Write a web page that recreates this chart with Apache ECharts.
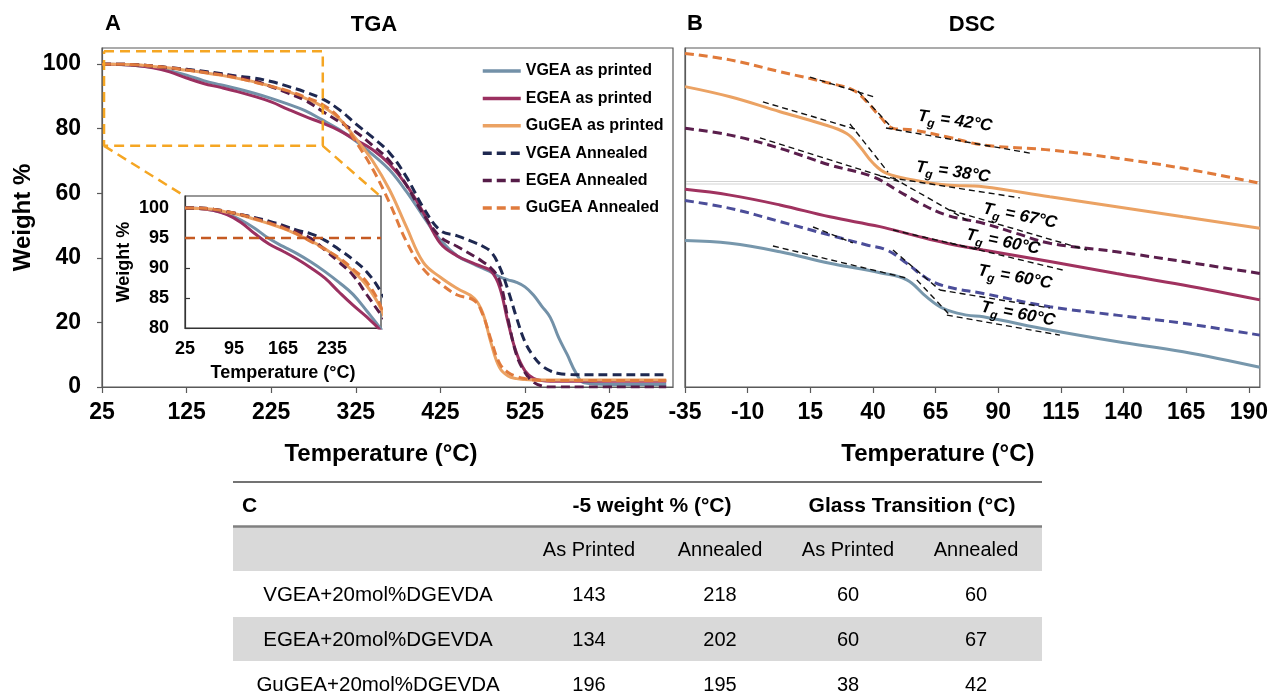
<!DOCTYPE html>
<html>
<head>
<meta charset="utf-8">
<script src="https://cdn.jsdelivr.net/npm/echarts@6/dist/echarts.min.js"></script>
<style>
html,body{margin:0;padding:0;background:#fff;}
#chart{width:1271px;height:700px;}
</style>
</head>
<body>
<div id="chart"></div>
<script>
// ---------------- DATA ----------------
const seriesNames = ['VGEA as printed','EGEA as printed','GuGEA as printed','VGEA Annealed','EGEA Annealed','GuGEA Annealed'];

// TGA (temperature °C, weight %)
const tgaTemp = [25,45,65,85,105,125,145,165,185,205,225,245,265,285,305,325,345,365,385,405,425,445,465,475,485,495,505,515,525,535,545,555,565,575,585,595,625,660,692];
const vgeaPrinted  = [100,99.9,99.6,99.0,98.0,96.6,94.9,93.6,92.4,91.0,89.4,87.6,85.6,82.8,79.8,76.2,72.0,67.2,60.5,52.8,45.5,40.6,38.0,36.8,35.6,34.1,33.2,32.4,31.0,28.5,25.0,21.5,15.2,10.0,4.5,1.3,0.8,0.8,0.8];
const egeaPrinted  = [100,99.9,99.6,98.9,97.6,95.7,94.0,92.8,91.5,90.0,88.3,86.0,83.8,81.8,79.5,76.5,73.5,69.0,62.5,54.0,44.5,40.6,38.2,37.2,35.9,31.0,20.0,10.5,5.0,2.7,2.0,1.8,1.8,1.8,1.8,1.8,1.8,1.8,1.8];
const gugeaPrinted = [100,99.9,99.8,99.3,98.8,98.1,97.4,96.6,95.6,94.5,93.2,91.5,89.5,87.0,83.2,77.0,70.0,61.0,49.5,38.5,34.0,30.5,27.5,23.0,13.5,6.0,3.4,2.6,2.3,2.2,2.2,2.2,2.2,2.2,2.2,2.2,2.2,2.2,2.2];
const vgeaAnnealed = [100,100,99.8,99.4,98.9,98.4,97.8,97.1,96.3,95.7,94.6,93.1,91.4,89.3,86.0,81.5,77.3,72.5,65.0,55.5,48.5,46.8,44.8,43.6,41.8,37.2,30.0,21.5,14.0,9.5,6.6,5.0,4.2,3.9,3.8,3.8,3.8,3.8,3.8];
const egeaAnnealed = [100,100,99.8,99.4,98.9,98.3,97.6,96.9,96.0,94.9,93.0,91.0,88.8,85.5,82.2,79.0,74.8,70.0,62.5,53.5,46.5,43.5,40.5,38.8,36.8,33.0,21.0,10.0,4.5,1.5,0.3,0,0,0,0,0,0,0,0];
const gugeaAnnealed= [100,100,99.8,99.4,98.9,98.2,97.5,96.7,95.7,94.4,93.1,91.7,89.8,87.6,83.5,76.0,67.5,57.0,45.0,36.5,32.0,28.5,26.8,22.5,14.5,7.3,4.5,3.3,2.6,2.2,2.0,2.0,2.0,2.0,2.0,2.0,2.0,2.0,2.0];
const tgaValues = [vgeaPrinted, egeaPrinted, gugeaPrinted, vgeaAnnealed, egeaAnnealed, gugeaAnnealed];

const tgaXTicks = [25,125,225,325,425,525,625];
const tgaYTicks = [0,20,40,60,80,100];
const insetXTicks = [25,95,165,235];
const insetYTicks = [80,85,90,95,100];
const insetThreshold = 95;
// zoom box annotation on TGA panel (temperature, weight %)
const zoomBoxPath = [[27.4,104],[286,104],[286,74.7],[27.4,74.7],[27.4,104]];
const zoomLinkLeft = [[27.4,74.7],[123,59.1]];
const zoomLinkRight = [[286,74.7],[354,59.1]];

// DSC (temperature °C, heat flow, arbitrary units 0-100)
const dscVgeaPrintedT = [-35,-17,2.9,22.8,42.8,53.5,61.4,68,77.4,84,110.6,137.2,163.8,194.4];
const dscVgeaPrintedY = [43.2,42.4,39.9,36.5,33.7,31.6,26.6,23.2,21.2,20.7,16.8,13.4,10.4,5.8];
const dscEgeaPrintedT = [-35,-17,2.9,22.8,42.8,56.1,69.4,84,110.6,137.2,163.8,194.4];
const dscEgeaPrintedY = [58.3,56.6,53.7,50.2,47.3,44.8,42.4,40.4,37.0,33.5,30.1,25.7];
const dscGugeaPrintedT = [-35,-17,2.9,18.8,29.5,34.8,40.1,45.5,56.1,69.4,84,110.6,137.2,163.8,194.4];
const dscGugeaPrintedY = [88.6,85.6,81.2,77.8,74.8,70.9,66.0,63.0,61.1,59.6,59.1,56.1,53.2,50.2,46.8];
const dscVgeaAnnealedT = [-35,-17,2.9,22.8,37.5,45.5,53.5,61.4,69.4,84,110.6,137.2,163.8,194.4];
const dscVgeaAnnealedY = [55.0,52.7,48.8,44.8,41.9,40.4,36.5,32.1,29.6,27.6,23.7,21.2,18.8,15.3];
const dscEgeaAnnealedT = [-35,-17,2.9,22.8,40.1,49.5,58.8,69.4,84,97.3,110.6,137.2,163.8,194.4];
const dscEgeaAnnealedY = [76.3,74.3,70.4,65.5,62.0,58.1,54.2,50.7,48.3,45.3,42.4,39.9,37.0,33.5];
const dscGugeaAnnealedT = [-35,-17,2.9,22.8,32.1,37.5,42.8,48.1,56.1,69.4,84,110.6,137.2,163.8,194.4];
const dscGugeaAnnealedY = [98.4,96.5,93.0,89.6,87.6,84.2,79.8,76.3,75.8,73.8,71.4,69.9,67.5,64.5,60.1];
const dscT = [dscVgeaPrintedT, dscEgeaPrintedT, dscGugeaPrintedT, dscVgeaAnnealedT, dscEgeaAnnealedT, dscGugeaAnnealedT];
const dscY = [dscVgeaPrintedY, dscEgeaPrintedY, dscGugeaPrintedY, dscVgeaAnnealedY, dscEgeaAnnealedY, dscGugeaAnnealedY];
const dscXTicks = [-35,-10,15,40,65,90,115,140,165,190];
// tangent construction lines on DSC: [[x1,y1],[x2,y2]]
const dscTangents = [
  [[14.9,91.4],[40.8,85.5]], [[34,87.3],[48,76.1]], [[45.2,76.4],[102.6,69.0]],
  [[-3.9,84.1],[32.8,76.1]], [[30.8,77.6],[46,63.4]], [[42.8,62.2],[98.6,55.8]],
  [[-5.1,73.5],[50.8,60.5]], [[48,61.7],[78.7,48.7]], [[70.7,52.2],[125.4,40.4]],
  [[48,46.3],[82.7,40.4]], [[70.7,42.5],[115.8,34.5]],
  [[16.1,47.2],[32,42.5]], [[48,40.4],[66.7,28.6]], [[66.7,28.6],[110.6,23.3]],
  [[0.1,41.6],[53.6,32.1]], [[57.5,31.6],[70.7,21.2]], [[69.5,21.2],[114.6,15.3]]
];
const tgLabels = ['42','38','67','60','60','60'];

// Table C
const tableGroups = ['-5 weight % (°C)', 'Glass Transition (°C)'];
const tableSubHeaders = ['As Printed','Annealed','As Printed','Annealed'];
const tableRowNames = ['VGEA+20mol%DGEVDA','EGEA+20mol%DGEVDA','GuGEA+20mol%DGEVDA'];
const t5Printed = [143,134,196];
const t5Annealed = [218,202,195];
const tgPrinted = [60,60,38];
const tgAnnealed = [60,67,42];

// ---------------- STYLE ----------------
const FONT = 'Liberation Sans, Arial, Helvetica, sans-serif';
const tgaColors = ['#7391A8','#9B3060','#EBA263','#1E2850','#561C48','#E07B3D'];
const dscColors = ['#7797AC','#A0325F','#EBA263','#4B4D99','#5A1E4C','#E07A3A'];
const dashedFlags = [false,false,false,true,true,true];
const DASH = [9,5];
const axisColor = '#595959';
const SMOOTH = 0.4;

const chart = echarts.init(document.getElementById('chart'), null, {renderer:'canvas'});

const series = [];
tgaValues.forEach((vals, i) => {
  const data = tgaTemp.map((t, k) => [t, vals[k]]);
  series.push({
    name: seriesNames[i], type:'line', xAxisIndex:0, yAxisIndex:0, data,
    symbol:'none', smooth:SMOOTH, z:2,
    lineStyle:{color:tgaColors[i], width:3, type: dashedFlags[i] ? DASH : 'solid'},
    itemStyle:{color:tgaColors[i]}
  });
});
// zoom box annotation
[zoomBoxPath, zoomLinkLeft, zoomLinkRight].forEach(p => {
  series.push({type:'line', xAxisIndex:0, yAxisIndex:0, data:p, symbol:'none', z:3, silent:true,
    lineStyle:{color:'#F5A623', width:2.5, type:[10,6]}});
});
// inset
tgaValues.forEach((vals, i) => {
  const data = tgaTemp.map((t, k) => [t, vals[k]]);
  series.push({
    name: seriesNames[i], type:'line', xAxisIndex:1, yAxisIndex:1, data,
    symbol:'none', smooth:SMOOTH, z:12, clip:true,
    lineStyle:{color:tgaColors[i], width:3, type: dashedFlags[i] ? DASH : 'solid'},
    itemStyle:{color:tgaColors[i]}
  });
});
series.push({type:'line', xAxisIndex:1, yAxisIndex:1, symbol:'none', z:12, silent:true,
  data:[[25,insetThreshold],[305,insetThreshold]],
  lineStyle:{color:'#C55A22', width:2.5, type:[10,6]}});
// DSC
dscT.forEach((ts, i) => {
  const data = ts.map((t, k) => [t, dscY[i][k]]);
  series.push({
    name: seriesNames[i], type:'line', xAxisIndex:2, yAxisIndex:2, data,
    symbol:'none', smooth:SMOOTH, z:2,
    lineStyle:{color:dscColors[i], width:3, type: dashedFlags[i] ? DASH : 'solid'},
    itemStyle:{color:dscColors[i]}
  });
});
dscTangents.forEach(seg => {
  series.push({type:'line', xAxisIndex:2, yAxisIndex:2, data:seg, symbol:'none', z:4, silent:true,
    lineStyle:{color:'#111', width:1.4, type:[6,4]}});
});

const boldLabel = (size) => ({fontFamily:FONT, fontWeight:'bold', fontSize:size, color:'#000'});

// graphic elements
const graphic = [];
const txt = (text, x, y, size, weight, align, extra) => Object.assign({
  type:'text', x, y, z:50,
  style:{text, fill:'#000', font: `${weight} ${size}px ${FONT}`, align: align || 'center', verticalAlign:'middle'}
}, extra || {});
graphic.push(txt('A', 113, 24, 22, 'bold'));
graphic.push(txt('TGA', 374, 25, 22, 'bold'));
graphic.push(txt('B', 695, 24, 22, 'bold'));
graphic.push(txt('DSC', 972, 25, 22, 'bold'));
// thin gray artifact line across DSC panel
[181.5, 184].forEach(y => graphic.push({type:'line', z:1, shape:{x1:686,y1:y,x2:1259,y2:y}, style:{stroke:'#d3d3d3', lineWidth:1}}));
// Tg labels
const tgPos = [[955,121,-0.14],[953,172,-0.14],[1020,216,-0.2],[1003,242,-0.2],[1015,277,-0.18],[1018,314,-0.19]];
tgLabels.forEach((v, i) => {
  graphic.push({type:'text', x:tgPos[i][0], y:tgPos[i][1], rotation:tgPos[i][2], z:50,
    style:{text:`{m|T}{s|g}{m| = ${v}°C}`, align:'center', verticalAlign:'middle',
      rich:{
        m:{fontFamily:FONT, fontSize:17, fontWeight:'bold', fontStyle:'italic', fill:'#000', lineHeight:24, verticalAlign:'middle'},
        s:{fontFamily:FONT, fontSize:12, fontWeight:'bold', fontStyle:'italic', fill:'#000', lineHeight:12, verticalAlign:'bottom'}
      }}});
});
// Table C
const tL = 233, tR = 1042;
graphic.push({type:'line', shape:{x1:tL,y1:482,x2:tR,y2:482}, style:{stroke:'#444', lineWidth:1.5}});
graphic.push({type:'rect', shape:{x:tL,y:527,width:tR-tL,height:44}, style:{fill:'#d9d9d9'}});
graphic.push({type:'rect', shape:{x:tL,y:617,width:tR-tL,height:44}, style:{fill:'#d9d9d9'}});
graphic.push({type:'line', shape:{x1:tL,y1:526.5,x2:tR,y2:526.5}, style:{stroke:'#808080', lineWidth:2.5}});
graphic.push(txt('C', 242, 506, 21, 'bold', 'left'));
const groupX = [652, 912];
tableGroups.forEach((g, i) => graphic.push(txt(g, groupX[i], 506, 21, 'bold')));
const colX = [589, 720, 848, 976];
tableSubHeaders.forEach((h, i) => graphic.push(txt(h, colX[i], 550, 20, 'normal')));
const rowY = [595.5, 640, 685];
tableRowNames.forEach((r, j) => {
  graphic.push(txt(r, 378, rowY[j], 20.5, 'normal'));
  [t5Printed, t5Annealed, tgPrinted, tgAnnealed].forEach((col, i) => graphic.push(txt(String(col[j]), colX[i], rowY[j], 20, 'normal')));
});

const option = {
  animation:false,
  backgroundColor:'#fff',
  textStyle:{fontFamily:FONT},
  legend:{
    data:seriesNames, orient:'vertical', left:476, top:57, itemWidth:38, itemHeight:14, itemGap:9.4,
    selectedMode:false, z:20,
    itemStyle:{opacity:0},
    lineStyle:{width:3.5},
    textStyle:{fontFamily:FONT, fontSize:16, fontWeight:'bold', color:'#000', lineHeight:18}
  },
  grid:[
    {left:102, top:48, width:571, height:339, show:true, borderColor:axisColor, borderWidth:1.2, z:0},
    {left:185, top:196, width:196, height:132, show:true, backgroundColor:'#fff', borderColor:'#333', borderWidth:1.2, z:10},
    {left:685, top:48, width:575, height:339, show:true, borderColor:axisColor, borderWidth:1.2, z:0}
  ],
  xAxis:[
    {type:'value', gridIndex:0, min:25, max:700,
      axisLine:{show:true, onZero:false, lineStyle:{color:axisColor, width:1.2}},
      axisTick:{show:true, length:6, customValues:tgaXTicks, lineStyle:{color:axisColor, width:1.2}},
      axisLabel:Object.assign({customValues:tgaXTicks, margin:14}, boldLabel(23)),
      splitLine:{show:false},
      name:'Temperature (°C)', nameLocation:'middle', nameGap:55,
      nameTextStyle:Object.assign({padding:[0,13,0,0]}, boldLabel(24))},
    {type:'value', gridIndex:1, min:25, max:305, z:12,
      axisLine:{show:true, onZero:false, lineStyle:{color:'#333', width:1.2}},
      axisTick:{show:false},
      axisLabel:Object.assign({customValues:insetXTicks, margin:12}, boldLabel(18)),
      splitLine:{show:false},
      name:'Temperature (°C)', nameLocation:'middle', nameGap:36, nameTextStyle:boldLabel(18)},
    {type:'value', gridIndex:2, min:-35, max:194.4,
      axisLine:{show:true, onZero:false, lineStyle:{color:axisColor, width:1.2}},
      axisTick:{show:true, length:6, customValues:dscXTicks, lineStyle:{color:axisColor, width:1.2}},
      axisLabel:Object.assign({customValues:dscXTicks, margin:14}, boldLabel(23)),
      splitLine:{show:false},
      name:'Temperature (°C)', nameLocation:'middle', nameGap:55,
      nameTextStyle:Object.assign({padding:[0,69,0,0]}, boldLabel(24))}
  ],
  yAxis:[
    {type:'value', gridIndex:0, min:0, max:105,
      axisLine:{show:true, onZero:false, lineStyle:{color:axisColor, width:1.2}},
      axisTick:{show:true, length:5, customValues:tgaYTicks, lineStyle:{color:axisColor, width:1.2}},
      axisLabel:Object.assign({customValues:tgaYTicks, margin:21}, boldLabel(23)),
      splitLine:{show:false},
      name:'Weight %', nameLocation:'middle', nameGap:67, nameRotate:90, nameTextStyle:boldLabel(24)},
    {type:'value', gridIndex:1, min:80, max:102, z:12,
      axisLine:{show:true, onZero:false, lineStyle:{color:'#333', width:1.2}},
      axisTick:{show:true, inside:true, length:5, customValues:insetYTicks, lineStyle:{color:'#333', width:1.2}},
      axisLabel:Object.assign({customValues:insetYTicks, margin:16}, boldLabel(18)),
      splitLine:{show:false},
      name:'Weight %', nameLocation:'middle', nameGap:52, nameRotate:90, nameTextStyle:boldLabel(18)},
    {type:'value', gridIndex:2, min:0, max:100,
      axisLine:{show:true, onZero:false, lineStyle:{color:axisColor, width:1.2}},
      axisTick:{show:false}, axisLabel:{show:false}, splitLine:{show:false}}
  ],
  series,
  graphic
};
chart.setOption(option);
</script>
</body>
</html>
